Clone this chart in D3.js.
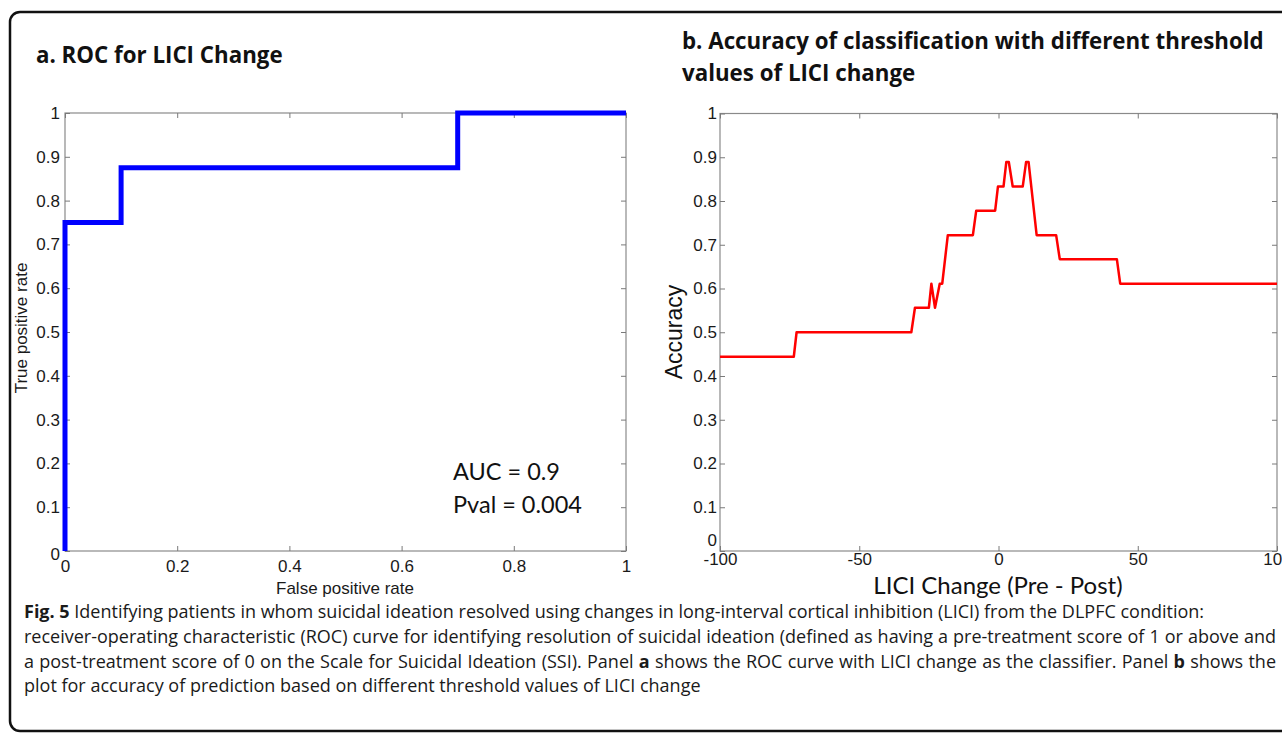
<!DOCTYPE html>
<meta charset="utf-8">
<html>
<head>
<style>
  body { margin: 0; background: #fff; width: 1282px; height: 733px; overflow: hidden; position: relative; }
  svg { position: absolute; left: 0; top: 0; }
  .axis text { font-family: "Liberation Sans", Arial, sans-serif; fill: #1a1a1a; }
  .axis line { stroke: #7a7a7a; }
  .axis path { display: none; }
  .caption { position: absolute; left: 24px; top: 599px; width: 1252px; font-family: "Open Sans", sans-serif; font-size: 18px; color: #1a1a1a; line-height: 24.8px; }
  .caption div { white-space: nowrap; }
  .caption .just { text-align: justify; text-align-last: justify; }
</style>
</head>
<body>
<svg id="chart" width="1282" height="733"></svg>
<div class="caption" id="caption"></div>
<script src="https://cdn.jsdelivr.net/npm/d3@7"></script>
<script>
// panel a: ROC curve
var rocFpr = [0, 0, 0.1, 0.1, 0.7, 0.7, 1];
var rocTpr = [0, 0.75, 0.75, 0.875, 0.875, 1, 1];
var rocTicks = [0, 0.2, 0.4, 0.6, 0.8, 1];
var rateTicks = [0, 0.1, 0.2, 0.3, 0.4, 0.5, 0.6, 0.7, 0.8, 0.9, 1];

// panel b: accuracy vs threshold
var liciChange = [-100, -73.5, -72.5, -31.3, -30.0, -25.0, -24.1, -22.8, -21.1, -20.2, -18.2,
  -9.2, -8.0, -1.2, -0.2, 1.8, 2.8, 3.7, 5.1, 8.7, 9.9, 10.8, 13.7, 20.7, 22.0, 42.5, 43.7, 100];
var accuracy = [0.444, 0.444, 0.5, 0.5, 0.556, 0.556, 0.611, 0.556, 0.611, 0.611, 0.722,
  0.722, 0.778, 0.778, 0.833, 0.833, 0.889, 0.889, 0.833, 0.833, 0.889, 0.889, 0.722, 0.722,
  0.667, 0.667, 0.611, 0.611];
var liciTicks = [-100, -50, 0, 50, 100];

var captionLines = [
  ["<b>Fig. 5</b> Identifying patients in whom suicidal ideation resolved using changes in long-interval cortical inhibition (LICI) from the DLPFC condition:", false],
  ["receiver-operating characteristic (ROC) curve for identifying resolution of suicidal ideation (defined as having a pre-treatment score of 1 or above and", true],
  ["a post-treatment score of 0 on the Scale for Suicidal Ideation (SSI). Panel <b>a</b> shows the ROC curve with LICI change as the classifier. Panel <b>b</b> shows the", true],
  ["plot for accuracy of prediction based on different threshold values of LICI change", false]
];

var svg = d3.select("#chart");

// outer rounded frame
svg.append("rect")
  .attr("x", 10).attr("y", 12)
  .attr("width", 1300).attr("height", 719)
  .attr("rx", 10)
  .attr("fill", "none")
  .attr("stroke", "#111")
  .attr("stroke-width", 2.5);

var calibri = "Lato, 'Open Sans', sans-serif";
var titleFont = "'Open Sans', sans-serif";
var arial = "'Liberation Sans', Arial, sans-serif";

// titles
svg.append("text").attr("x", 36).attr("y", 63)
  .style("font-family", titleFont).style("font-weight", "bold").style("font-size", "22.3px")
  .attr("fill", "#111").text("a. ROC for LICI Change");
svg.append("text").attr("x", 682).attr("y", 49)
  .style("font-family", titleFont).style("font-weight", "bold").style("font-size", "22.3px")
  .attr("fill", "#111").text("b. Accuracy of classification with different threshold");
svg.append("text").attr("x", 682).attr("y", 81)
  .style("font-family", titleFont).style("font-weight", "bold").style("font-size", "22.3px")
  .attr("fill", "#111").text("values of LICI change");

function fmt(d) { return String(d); }

function frame(g, x, y, xTicks, yTicks, fs, padX, padY) {
  var w = x.range()[1] - x.range()[0], h = y.range()[0] - y.range()[1];
  g.append("rect").attr("x", x.range()[0]).attr("y", y.range()[1])
    .attr("width", w).attr("height", h)
    .attr("fill", "none").attr("stroke", "#8a8a8a").attr("stroke-width", 1.2);

  var bottom = g.append("g").attr("class", "axis")
    .attr("transform", "translate(0," + y.range()[0] + ")")
    .call(d3.axisBottom(x).tickValues(xTicks).tickSize(-5).tickPadding(padX).tickFormat(fmt));
  var left = g.append("g").attr("class", "axis")
    .attr("transform", "translate(" + x.range()[0] + ",0)")
    .call(d3.axisLeft(y).tickValues(yTicks).tickSize(-5).tickPadding(padY).tickFormat(fmt));
  g.append("g").attr("class", "axis")
    .attr("transform", "translate(0," + y.range()[1] + ")")
    .call(d3.axisTop(x).tickValues(xTicks).tickSize(-5).tickFormat(""));
  g.append("g").attr("class", "axis")
    .attr("transform", "translate(" + x.range()[1] + ",0)")
    .call(d3.axisRight(y).tickValues(yTicks).tickSize(-5).tickFormat(""));
  bottom.selectAll("text").style("font-size", fs + "px");
  left.selectAll("text").style("font-size", fs + "px");
  return {bottom: bottom, left: left};
}

// ---- panel a ----
var xa = d3.scaleLinear().domain([0, 1]).range([65, 626]);
var ya = d3.scaleLinear().domain([0, 1]).range([551, 113]);
var ga = svg.append("g");
var axa = frame(ga, xa, ya, rocTicks, rateTicks, 17, 9, 5);
axa.left.selectAll(".tick").filter(function(d) { return d === 0; })
  .select("text").attr("dy", "0.5em");

ga.append("path")
  .datum(d3.range(rocFpr.length))
  .attr("fill", "none")
  .attr("stroke", "#0000ff")
  .attr("stroke-width", 5)
  .attr("d", d3.line().x(function(i) { return xa(rocFpr[i]); }).y(function(i) { return ya(rocTpr[i]); }));

ga.append("text").attr("x", 345).attr("y", 594).attr("text-anchor", "middle")
  .style("font-family", arial).style("font-size", "17px").attr("fill", "#1a1a1a")
  .text("False positive rate");
ga.append("text").attr("transform", "translate(27,328) rotate(-90)").attr("text-anchor", "middle")
  .style("font-family", arial).style("font-size", "17px").attr("fill", "#1a1a1a")
  .text("True positive rate");
ga.append("text").attr("x", 453).attr("y", 480)
  .style("font-family", calibri).style("font-size", "23.5px").attr("fill", "#111")
  .text("AUC = 0.9");
ga.append("text").attr("x", 453).attr("y", 513)
  .style("font-family", calibri).style("font-size", "23.5px").attr("fill", "#111")
  .text("Pval = 0.004");

// ---- panel b ----
var xb = d3.scaleLinear().domain([-100, 100]).range([720, 1277]);
var yb = d3.scaleLinear().domain([0, 1]).range([551, 113.5]);
var gb = svg.append("g");
var axb = frame(gb, xb, yb, liciTicks, rateTicks, 17, 2, 3);
axb.left.selectAll(".tick").filter(function(d) { return d === 0; })
  .select("text").attr("dy", "-0.3em");

gb.append("path")
  .datum(d3.range(liciChange.length))
  .attr("fill", "none")
  .attr("stroke", "#ff0000")
  .attr("stroke-width", 2.5)
  .attr("stroke-linejoin", "round")
  .attr("d", d3.line().x(function(i) { return xb(liciChange[i]); }).y(function(i) { return yb(accuracy[i]); }));

gb.append("text").attr("x", 998).attr("y", 594).attr("text-anchor", "middle")
  .style("font-family", calibri).style("font-size", "24px").attr("fill", "#111")
  .text("LICI Change (Pre - Post)");
gb.append("text").attr("transform", "translate(682,332) rotate(-90)").attr("text-anchor", "middle")
  .style("font-family", arial).style("font-size", "23px").attr("fill", "#111")
  .text("Accuracy");

// caption
d3.select("#caption").selectAll("div")
  .data(captionLines)
  .enter().append("div")
  .attr("class", function(d) { return d[1] ? "just" : null; })
  .html(function(d) { return d[0]; });
</script>
</body>
</html>
